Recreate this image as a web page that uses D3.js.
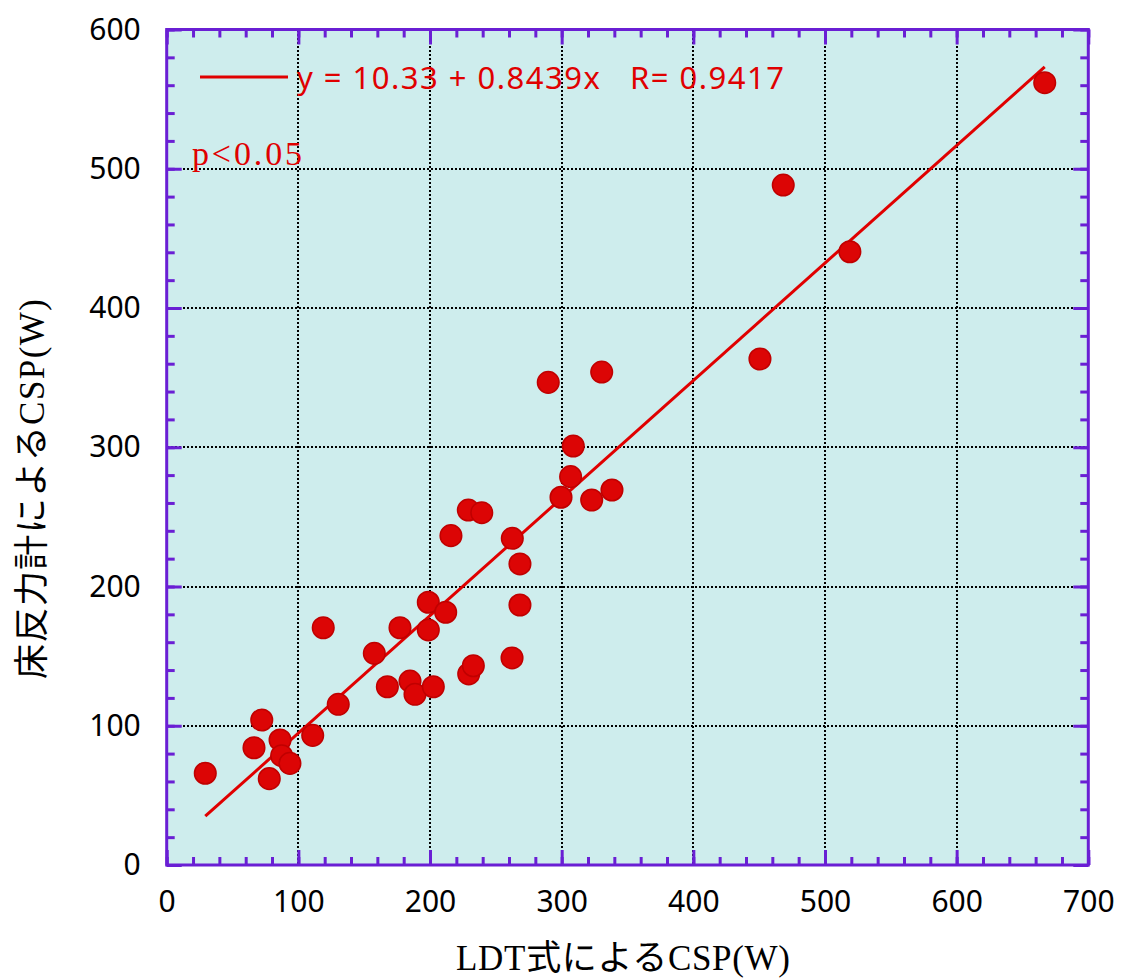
<!DOCTYPE html>
<html>
<head>
<meta charset="utf-8">
<script src="https://cdn.jsdelivr.net/npm/d3@7"></script>
<style>
  html, body { margin: 0; padding: 0; background: #ffffff; }
  svg { display: block; }
</style>
</head>
<body>
<svg id="chart" width="1122" height="979"></svg>
<script>
// LDT estimate (x) vs force-plate measurement (y), both CSP in watts
const ldtCSP = [
  29.3, 66.3, 72.2, 77.9, 86.1, 87.3, 93.6, 110.9, 118.9, 130.3,
  157.7, 167.6, 177.2, 184.8, 188.6, 198.7, 198.7, 202.5, 211.9, 215.9,
  229.1, 229.4, 232.9, 239.3, 262.5, 262.3, 268.3, 268.3, 289.8, 299.5,
  306.8, 308.8, 322.8, 330.4, 338.2, 450.6, 468.3, 518.9, 666.9
];
const plateCSP = [
  65.9, 84.2, 104.1, 62.0, 89.8, 78.5, 73.0, 93.1, 170.4, 115.4,
  152.0, 128.0, 170.4, 132.1, 122.6, 168.8, 188.7, 128.0, 181.5, 236.5,
  254.9, 137.2, 143.1, 253.0, 234.6, 148.7, 216.2, 186.7, 346.6, 264.1,
  278.9, 300.9, 262.1, 354.0, 269.3, 363.4, 488.3, 440.4, 561.8
];

// Regression fit
const intercept = 10.33;
const slope = 0.8439;
const rValue = "0.9417";

const xTicks = [0, 100, 200, 300, 400, 500, 600, 700];
const yTicks = [0, 100, 200, 300, 400, 500, 600];

const frameColor = "#6a1fd4";
const bgColor = "#ceeded";
const redFill = "#dc0505";
const redEdge = "#c00000";

const svg = d3.select("#chart");
const plotLeft = 166.7, plotRight = 1088.3, plotTop = 29.5, plotBottom = 865;

const x = d3.scaleLinear().domain([0, 700]).range([plotLeft, plotRight]);
const y = d3.scaleLinear().domain([0, 600]).range([plotBottom, plotTop]);

// plot background
svg.append("rect")
  .attr("x", plotLeft).attr("y", plotTop)
  .attr("width", plotRight - plotLeft).attr("height", plotBottom - plotTop)
  .attr("fill", bgColor);

// dotted grid at inner major ticks, snapped to whole pixels
const grid = svg.append("g").attr("stroke", "#000").attr("stroke-width", 2)
  .attr("stroke-dasharray", "2,2").attr("fill", "none");
grid.selectAll("line.gx").data(xTicks.slice(1, -1)).join("line")
  .attr("class", "gx")
  .attr("x1", d => Math.round(x(d))).attr("x2", d => Math.round(x(d)))
  .attr("y1", Math.round(plotTop)).attr("y2", Math.round(plotBottom));
grid.selectAll("line.gy").data(yTicks.slice(1, -1)).join("line")
  .attr("class", "gy")
  .attr("x1", Math.round(plotLeft)).attr("x2", Math.round(plotRight))
  .attr("y1", d => Math.round(y(d))).attr("y2", d => Math.round(y(d)));

// inward ticks on all four sides: minor every 20, major every 100
const xMinor = d3.range(0, 701, 20);
const yMinor = d3.range(0, 601, 20);
const fmtNone = () => "";

function tickAxis(gen, transform, values, size) {
  const g = svg.append("g").attr("transform", transform)
    .call(gen.tickValues(values).tickSizeInner(-size).tickSizeOuter(0).tickFormat(fmtNone));
  g.select(".domain").remove();
  g.selectAll(".tick line").attr("stroke", frameColor).attr("stroke-width", 3);
  return g;
}
tickAxis(d3.axisBottom(x), `translate(0,${plotBottom})`, xMinor, 8);
tickAxis(d3.axisBottom(x), `translate(0,${plotBottom})`, xTicks, 15);
tickAxis(d3.axisTop(x), `translate(0,${plotTop})`, xMinor, 8);
tickAxis(d3.axisTop(x), `translate(0,${plotTop})`, xTicks, 15);
tickAxis(d3.axisLeft(y), `translate(${plotLeft},0)`, yMinor, 8);
tickAxis(d3.axisLeft(y), `translate(${plotLeft},0)`, yTicks, 15);
tickAxis(d3.axisRight(y), `translate(${plotRight},0)`, yMinor, 8);
tickAxis(d3.axisRight(y), `translate(${plotRight},0)`, yTicks, 15);

// tick labels
const labelFont = "'Noto Sans', sans-serif";
const xLab = svg.append("g").attr("transform", `translate(0,${plotBottom})`)
  .call(d3.axisBottom(x).tickValues(xTicks).tickSize(0).tickPadding(26));
xLab.select(".domain").remove();
xLab.selectAll("text").attr("font-family", labelFont).attr("font-size", 30).attr("fill", "#000");

const yLab = svg.append("g").attr("transform", `translate(${plotLeft},0)`)
  .call(d3.axisLeft(y).tickValues(yTicks).tickSize(0).tickPadding(26));
yLab.select(".domain").remove();
yLab.selectAll("text").attr("font-family", labelFont).attr("font-size", 30).attr("fill", "#000");

// frame
svg.append("rect")
  .attr("x", plotLeft).attr("y", plotTop)
  .attr("width", plotRight - plotLeft).attr("height", plotBottom - plotTop)
  .attr("fill", "none").attr("stroke", frameColor).attr("stroke-width", 3);

// regression line over the data range
const xMin = d3.min(ldtCSP), xMax = d3.max(ldtCSP);
svg.append("line")
  .attr("x1", x(xMin)).attr("y1", y(intercept + slope * xMin))
  .attr("x2", x(xMax)).attr("y2", y(intercept + slope * xMax))
  .attr("stroke", "#e00000").attr("stroke-width", 3);

// data points
svg.append("g").selectAll("circle")
  .data(ldtCSP.map((v, i) => [v, plateCSP[i]]))
  .join("circle")
  .attr("cx", d => x(d[0])).attr("cy", d => y(d[1]))
  .attr("r", 10.8)
  .attr("fill", redFill).attr("stroke", redEdge).attr("stroke-width", 1.5);

// legend
svg.append("line")
  .attr("x1", 200).attr("x2", 288).attr("y1", 77).attr("y2", 77)
  .attr("stroke", "#e00000").attr("stroke-width", 3);
svg.append("text")
  .attr("x", 297).attr("y", 89)
  .attr("font-family", labelFont).attr("font-size", 31)
  .attr("fill", "#e00000")
  .attr("xml:space", "preserve")
  .attr("textLength", 487).attr("lengthAdjust", "spacing")
  .text(`y = ${intercept} + ${slope}x   R= ${rValue}`);

svg.append("text")
  .attr("x", 192).attr("y", 165)
  .attr("font-family", "'Liberation Serif', serif").attr("font-size", 34)
  .attr("fill", "#e00000")
  .attr("textLength", 110).attr("lengthAdjust", "spacing")
  .text("p<0.05");

// axis titles
const titleFont = "'Liberation Serif', 'Noto Sans CJK JP', serif";
svg.append("text")
  .attr("x", 623).attr("y", 970)
  .attr("text-anchor", "middle")
  .attr("font-family", titleFont).attr("font-size", 35).attr("fill", "#000")
  .attr("textLength", 334).attr("lengthAdjust", "spacing")
  .text("LDT式によるCSP(W)");

svg.append("text")
  .attr("transform", "translate(44,489) rotate(-90)")
  .attr("text-anchor", "middle")
  .attr("font-family", titleFont).attr("font-size", 35).attr("fill", "#000")
  .attr("textLength", 380).attr("lengthAdjust", "spacing")
  .text("床反力計によるCSP(W)");
</script>
</body>
</html>
